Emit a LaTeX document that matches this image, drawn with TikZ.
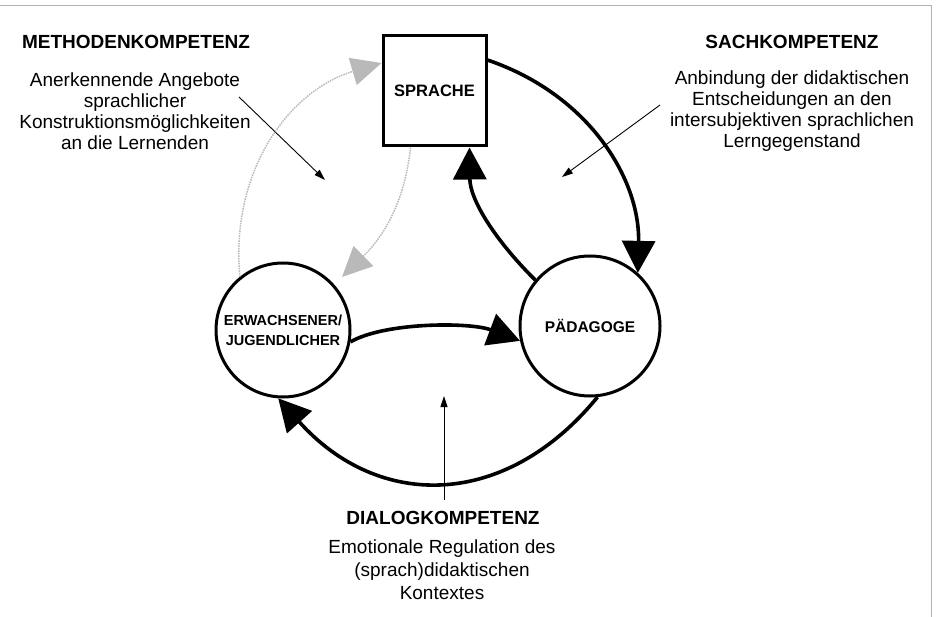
\documentclass[tikz,border=0pt]{standalone}
\usepackage{fontspec}
\setmainfont{Liberation Sans}
\usetikzlibrary{arrows.meta}
\begin{document}
\begin{tikzpicture}[x=1pt,y=-1pt,
  thickarr/.style={line width=3.6pt,-{Triangle[length=32pt,width=33pt]}},
  grayarr/.style={line width=1.5pt,draw=gray!55,densely dotted,-{Triangle[length=30pt,width=28pt,fill=gray!55,color=gray!55]}},
  pointer/.style={line width=0.9pt,-{Triangle[length=11pt,width=7pt]}},
  head/.style={font=\bfseries\fontsize{19}{22}\selectfont,inner sep=0pt},
  body/.style={align=center,inner sep=0pt},
  circ/.style={circle,draw,line width=3pt,align=center,inner sep=0pt},
  frame/.style={draw=gray!60,line width=0.8pt}]
\useasboundingbox (0,0) rectangle (936,617);
% frame
\coordinate (f1) at (0,5);
\coordinate (f2) at (931,5);
\coordinate (f3) at (931,617);
\draw[frame] (f1) -- (f2) -- (f3);
% main nodes
\node[draw,line width=3pt,minimum width=103pt,minimum height=110pt,inner sep=0pt,
      font=\bfseries\fontsize{16.5}{19}\selectfont] (spr) at (434.5,91) {SPRACHE};
\node[circ,minimum size=134pt,font=\bfseries\fontsize{14.5}{20}\selectfont] (erw) at (283,330) {ERWACHSENER/\\JUGENDLICHER};
\node[circ,minimum size=140pt,font=\bfseries\fontsize{15.5}{19}\selectfont] (pad) at (590,326) {PÄDAGOGE};
% texts
\node[head] (mh) at (136,42) {METHODENKOMPETENZ};
\node[body,font=\fontsize{19}{21}\selectfont] (mb) at (135,111.5) {Anerkennende Angebote\\sprachlicher\\Konstruktionsmöglichkeiten\\an die Lernenden};
\node[head] (sh) at (792,42) {SACHKOMPETENZ};
\node[body,font=\fontsize{19}{21}\selectfont] (sb) at (792,111) {Anbindung der didaktischen\\Entscheidungen an den\\intersubjektiven sprachlichen\\Lerngegenstand};
\node[head] (dh) at (443,518) {DIALOGKOMPETENZ};
\node[body,font=\fontsize{19}{23}\selectfont] (db) at (442,570) {Emotionale Regulation des\\(sprach)didaktischen\\Kontextes};
% pointers
\coordinate (mp1) at (239,97);
\coordinate (mp2) at (325,180);
\coordinate (sp1) at (660,105);
\coordinate (sp2) at (562,177);
\coordinate (dp1) at (444,500);
\coordinate (dp2) at (444,396);
\draw[pointer] (mp1) -- (mp2);
\draw[pointer] (sp1) -- (sp2);
\draw[pointer] (dp1) -- (dp2);
% thick arrows
\draw[thickarr] ([yshift=31pt]spr.east) .. controls (590,95) and (640,180) .. (pad.48);
\draw[thickarr] (pad.140) .. controls (495,240) and (470,200) .. ([xshift=35pt]spr.south);
\draw[thickarr] (erw.-10) .. controls (385,322) and (470,322) .. (pad.192);
\draw[thickarr] (pad.-84) .. controls (505,510) and (378,510) .. (erw.-94);
% gray dotted arrows
\draw[grayarr] (erw.129) .. controls (230,170) and (290,90) .. ([yshift=28pt]spr.west);
\draw[grayarr] ([xshift=-24pt]spr.south) .. controls (405,200) and (385,235) .. (342,277);
\end{tikzpicture}
\end{document}
